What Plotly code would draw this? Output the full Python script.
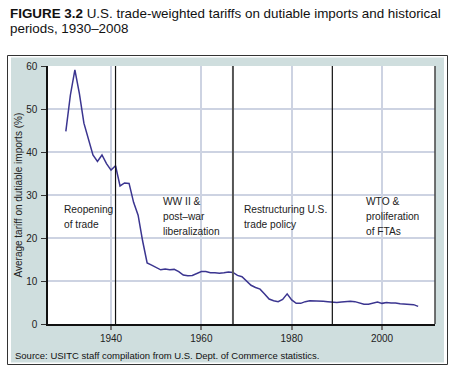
import plotly.graph_objects as go

years = list(range(1930, 2009))
tariff = [
    44.8, 53.2, 59.1, 53.6, 46.7, 42.9, 39.3, 37.8, 39.3, 37.3,   # 1930-1939
    35.8, 36.8, 32.1, 32.8, 32.7, 28.3, 25.3, 19.3, 14.2, 13.7,   # 1940-1949
    13.1, 12.6, 12.8, 12.6, 12.7, 12.2, 11.4, 11.2, 11.3, 11.7,   # 1950-1959
    12.2, 12.2, 11.9, 11.9, 11.8, 11.9, 12.1, 12.0, 11.3, 11.0,   # 1960-1969
    10.0, 9.0, 8.5, 8.1, 7.0, 5.8, 5.4, 5.2, 5.7, 7.0,            # 1970-1979
    5.6, 4.8, 4.8, 5.2, 5.4, 5.4, 5.3, 5.3, 5.2, 5.1,             # 1980-1989
    5.0, 5.1, 5.2, 5.3, 5.2, 4.9, 4.6, 4.6, 4.8, 5.1,             # 1990-1999
    4.8, 5.0, 4.9, 4.9, 4.7, 4.6, 4.5, 4.5, 4.1,                  # 2000-2008
]

period_breaks = [1941, 1967, 1989]
period_labels = [
    ["Reopening", "of trade"],
    ["WW II &", "post\u2013war", "liberalization"],
    ["Restructuring U.S.", "trade policy"],
    ["WTO &", "proliferation", "of FTAs"],
]
label_x = [1929.2, 1951.0, 1969.0, 1996.0]
label_top = [26.7, 28.4, 26.7, 28.4]

y_ticks = [0, 10, 20, 30, 40, 50, 60]
x_ticks = [1940, 1960, 1980, 2000]

W, H = 457, 371
L, R, T, B = 48, 435, 66, 324  # plot area in pixels
pw, ph = R - L, B - T

def px(x):
    return (x - L) / pw

def py(y):
    return (B - y) / ph

FONT = "Liberation Sans, Arial, sans-serif"
TEAL = "#cfdede"

fig = go.Figure()
fig.add_trace(go.Scatter(
    x=years, y=tariff, mode="lines",
    line=dict(color="#3b3590", width=1.5),
    hoverinfo="skip", showlegend=False,
))

def white_box(x0, x1, y0, y1):
    # pixel coords -> paper
    return dict(type="rect", xref="paper", yref="paper", layer="above",
                x0=px(x0), x1=px(x1), y0=py(y1), y1=py(y0),
                line=dict(width=0), fillcolor="white")

# teal panel spans x 11..444, y 57.5..362.5 ; everything outside is white
shapes = [
    white_box(-5, W + 5, -5, 57.5),        # top strip
    white_box(-5, W + 5, 362.5, H + 5),    # bottom strip
    white_box(-5, 11, -5, H + 5),          # left strip
    white_box(444, W + 5, -5, H + 5),      # right strip
    # outer frame
    dict(type="rect", xref="paper", yref="paper", layer="above",
         x0=px(7.5), x1=px(447.5), y0=py(364.5), y1=py(55.5),
         line=dict(color="#333333", width=1), fillcolor="rgba(0,0,0,0)"),
    # right edge of plot
    dict(type="line", xref="paper", yref="paper",
         x0=1, x1=1, y0=0, y1=1,
         line=dict(color="#444444", width=1.5)),
]
for i, yr in enumerate(period_breaks):
    shapes.append(dict(
        type="line", xref="x", yref="paper", x0=yr, x1=yr, y0=0, y1=1,
        line=dict(color="#555555" if i == 1 else "#111111", width=2 if i == 1 else 1.2),
    ))

annotations = []
line_step = 15 / 43.0 * 10  # 15 px in data units
for lines, lx, top in zip(period_labels, label_x, label_top):
    for j, t in enumerate(lines):
        annotations.append(dict(
            x=lx, y=top - j * line_step, xref="x", yref="y",
            text=t, showarrow=False, xanchor="left", yanchor="middle",
            font=dict(family=FONT, size=10.2, color="#222222"),
        ))

# title
annotations.append(dict(
    x=px(8), y=py(13.5), xref="paper", yref="paper",
    text="<b>FIGURE 3.2</b> U.S. trade-weighted tariffs on dutiable imports and historical",
    showarrow=False, xanchor="left", yanchor="middle",
    font=dict(family=FONT, size=13.4, color="#111111"),
))
annotations.append(dict(
    x=px(8), y=py(29), xref="paper", yref="paper",
    text="periods, 1930\u20132008",
    showarrow=False, xanchor="left", yanchor="middle",
    font=dict(family=FONT, size=13.4, color="#111111"),
))
# y-axis title
annotations.append(dict(
    x=px(17.5), y=py(195), xref="paper", yref="paper",
    text="Average tariff on dutiable imports (%)",
    showarrow=False, textangle=-90, xanchor="center", yanchor="middle",
    font=dict(family=FONT, size=10, color="#222222"),
))
# source
annotations.append(dict(
    x=px(13), y=py(355), xref="paper", yref="paper",
    text="Source: USITC staff compilation from U.S. Dept. of Commerce statistics.",
    showarrow=False, xanchor="left", yanchor="middle",
    font=dict(family=FONT, size=9.5, color="#111111"),
))

fig.update_layout(
    width=W, height=H,
    margin=dict(l=L, r=W - R, t=T, b=H - B, pad=0),
    paper_bgcolor=TEAL, plot_bgcolor="white",
    shapes=shapes, annotations=annotations,
    showlegend=False,
    xaxis=dict(
        range=[1926.05, 2011.73], tickvals=x_ticks, ticktext=[str(v) for v in x_ticks],
        showgrid=True, gridcolor="#cdd3e2", gridwidth=2,
        showline=True, linecolor="#111111", linewidth=1.5,
        ticks="outside", ticklen=4, tickwidth=2, tickcolor="#777777",
        tickfont=dict(family=FONT, size=10, color="#222222"),
        zeroline=False, fixedrange=True,
    ),
    yaxis=dict(
        range=[0, 60], tickvals=y_ticks,
        showgrid=True, gridcolor="#cdd3e2", gridwidth=1.5,
        showline=True, linecolor="#111111", linewidth=1.5,
        ticks="outside", ticklen=5, tickwidth=1, tickcolor="#333333",
        tickfont=dict(family=FONT, size=10, color="#222222"),
        ticklabelstandoff=2,
        zeroline=False, fixedrange=True,
    ),
)

fig.write_html(
    "out.html",
    config={"displayModeBar": False},
    post_script="document.body.style.margin='0';document.body.style.overflow='hidden';",
)
